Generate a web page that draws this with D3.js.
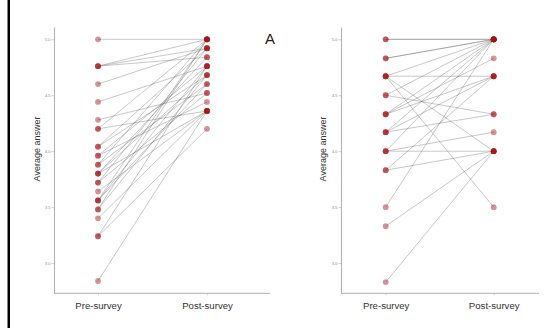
<!DOCTYPE html>
<html>
<head>
<meta charset="utf-8">
<script src="https://cdn.jsdelivr.net/npm/d3@7"></script>
<style>
  html, body { margin: 0; padding: 0; background: #fff; }
  svg { display: block; font-family: "Liberation Sans", Arial, sans-serif; }
</style>
</head>
<body>
<svg id="chart" width="544" height="328"></svg>
<script>
const width = 544;
const height = 328;

// categories
const surveys = ['Pre-survey', 'Post-survey'];
const yTicks = [3.0, 3.5, 4.0, 4.5, 5.0];

// panel A, left: one entry per participant (pre, post)
const leftPre = [5.00, 4.76, 4.76, 4.76, 4.60, 4.44, 4.28, 4.20, 4.20, 4.04,
                 4.04, 3.96, 3.96, 3.88, 3.88, 3.80, 3.80, 3.80, 3.72, 3.72,
                 3.64, 3.56, 3.56, 3.56, 3.48, 3.48, 3.40, 3.24, 3.24, 2.84];
const leftPost = [5.00, 5.00, 4.92, 4.84, 4.92, 4.76, 4.52, 5.00, 4.36, 4.68,
                  4.92, 4.76, 4.44, 5.00, 4.60, 4.84, 4.36, 4.68, 4.92, 4.52,
                  4.36, 5.00, 4.76, 4.60, 4.68, 5.00, 4.36, 4.76, 4.20, 4.36];

// panel right
const rightPre = [5.00, 5.00, 4.83, 4.83, 4.67, 4.67, 4.67, 4.67, 4.50, 4.50,
                  4.33, 4.33, 4.33, 4.17, 4.17, 4.17, 4.00, 4.00, 4.00, 3.83,
                  3.83, 3.50, 3.33, 2.83];
const rightPost = [5.00, 5.00, 5.00, 5.00, 4.67, 5.00, 3.50, 4.00, 4.33, 5.00,
                   5.00, 4.67, 4.83, 4.33, 5.00, 4.67, 4.00, 4.17, 5.00, 4.00,
                   4.67, 5.00, 4.00, 4.00];

const panels = [
  { pre: leftPre, post: leftPost, axisX: 54, axisEnd: 270, range: [98, 207], labelX: 40 },
  { pre: rightPre, post: rightPost, axisX: 341, axisEnd: 539, range: [385.7, 493.7], labelX: 326 }
];

const svg = d3.select('#chart');

svg.append('rect')
  .attr('width', width).attr('height', height)
  .attr('fill', '#fff');

// black frame edge on the left
svg.append('rect')
  .attr('x', 7.5).attr('y', 0)
  .attr('width', 2.5).attr('height', height)
  .attr('fill', '#000');

const y = d3.scaleLinear().domain([2.73, 5.11]).range([293.3, 27]);
const axisColor = '#b0b0b0';

panels.forEach(p => {
  const x = d3.scalePoint().domain(surveys).range(p.range);
  const g = svg.append('g');
  const pairs = p.pre.map((v, i) => ({ pre: v, post: p.post[i] }));

  // y axis
  const gy = g.append('g')
    .attr('transform', `translate(${p.axisX},0)`)
    .call(d3.axisLeft(y).tickValues(yTicks).tickFormat(d3.format('.1f')).tickSizeInner(2.5).tickSizeOuter(0));
  gy.select('.domain').attr('stroke', axisColor).attr('stroke-width', 1);
  gy.selectAll('.tick line').attr('stroke', axisColor).attr('stroke-width', 0.6);
  gy.selectAll('.tick text').attr('font-size', 4).attr('fill', '#888').attr('x', -3.5);

  // x axis
  const gx = g.append('g')
    .attr('transform', `translate(0,${y.range()[0]})`)
    .call(d3.axisBottom(x).tickSizeInner(2).tickSizeOuter(0));
  gx.select('.domain').remove();
  gx.append('line')
    .attr('x1', p.axisX).attr('x2', p.axisEnd)
    .attr('stroke', axisColor).attr('stroke-width', 1);
  gx.selectAll('.tick line').attr('stroke', axisColor).attr('stroke-width', 0.6);
  gx.selectAll('.tick text')
    .attr('font-size', 9.6).attr('fill', '#333').attr('dy', 0).attr('y', 16);

  g.append('text')
    .attr('transform', `translate(${p.labelX},149) rotate(-90)`)
    .attr('text-anchor', 'middle')
    .attr('font-size', 9).attr('fill', '#333')
    .text('Average answer');

  // paired lines
  g.selectAll('.pair')
    .data(pairs)
    .join('line')
    .attr('class', 'pair')
    .attr('x1', x(surveys[0])).attr('y1', d => y(d.pre))
    .attr('x2', x(surveys[1])).attr('y2', d => y(d.post))
    .attr('stroke', '#5a5a5a')
    .attr('stroke-opacity', 0.42)
    .attr('stroke-width', 0.8);

  // points
  const pts = pairs.flatMap(d => [
    { s: surveys[0], v: d.pre },
    { s: surveys[1], v: d.post }
  ]);
  g.selectAll('.pt')
    .data(pts)
    .join('circle')
    .attr('class', 'pt')
    .attr('cx', d => x(d.s))
    .attr('cy', d => y(d.v))
    .attr('r', 2.9)
    .attr('fill', '#a50f15')
    .attr('fill-opacity', 0.45);
});

svg.append('text')
  .attr('x', 270).attr('y', 44)
  .attr('text-anchor', 'middle')
  .attr('font-size', 15).attr('fill', '#222')
  .text('A');
</script>
</body>
</html>
